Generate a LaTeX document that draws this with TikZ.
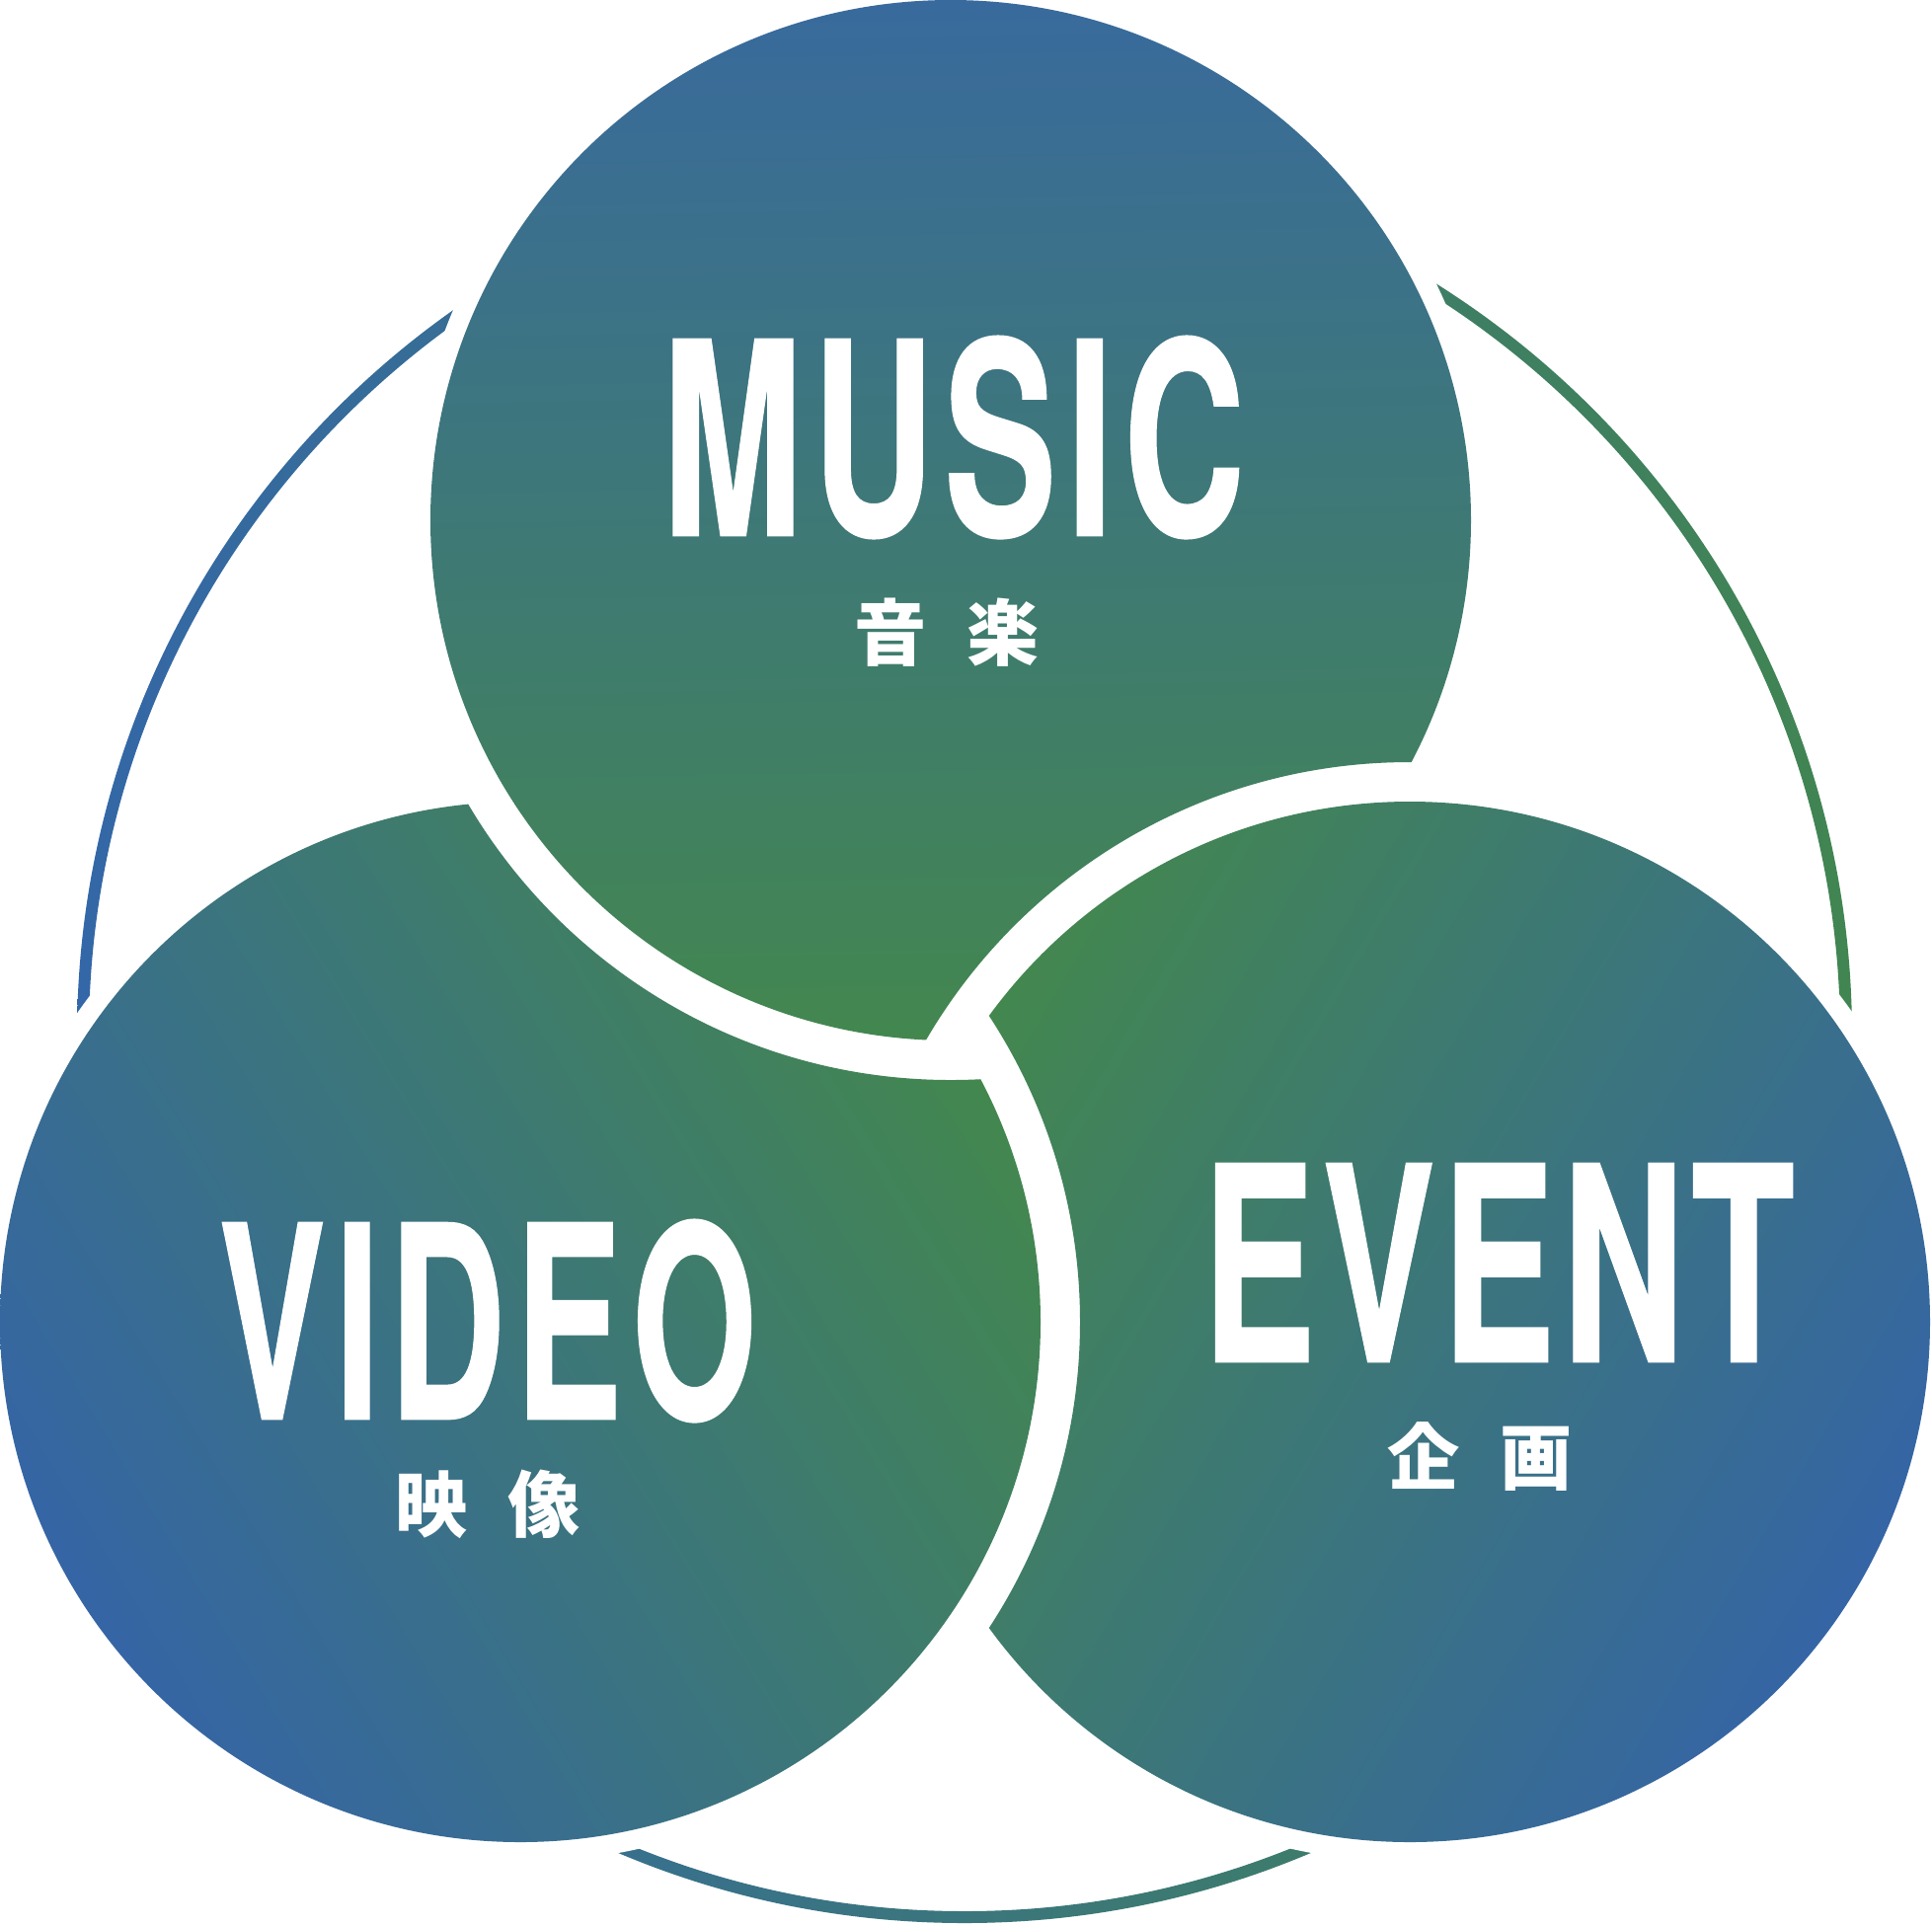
\documentclass[tikz,border=0pt]{standalone}
\usepackage{fontspec}
\usepackage{graphicx}
\setmainfont{TeX Gyre Heros}
\newfontfamily\jpfont{Noto Sans CJK JP}
\definecolor{cblue}{HTML}{3565A5}
\definecolor{mblue}{HTML}{396A9D}
\definecolor{cgreen}{HTML}{43874F}
\definecolor{rblue}{HTML}{3467A7}
\definecolor{rgreen}{HTML}{418552}
\tikzset{title/.style={inner sep=0pt, text=white, font=\bfseries\addfontfeature{FakeBold=0.6}}}
\tikzset{kanji/.style={inner sep=0pt, text=white, font=\jpfont\bfseries\fontsize{20.8pt}{24pt}\selectfont}}
\tikzset{musicfill/.style={top color=mblue, bottom color=cgreen, shading angle=1}}
\tikzset{videofill/.style={bottom color=cblue, top color=cgreen, shading angle=-58.7}}
\tikzset{eventfill/.style={bottom color=cblue, top color=cgreen, shading angle=59.3}}
\newcommand\spc{\kern.06em}

\begin{document}
\begin{tikzpicture}[x=0.01cm, y=0.01cm]
\useasboundingbox (0,0) rectangle (1957,-1950);
\coordinate (music) at (963,-527);
\coordinate (video) at (527,-1339);
\coordinate (event) at (1428,-1339);
\coordinate (ring) at (977,-1049);

% outer ring, cut round the circles
\shade[left color=rblue, right color=rgreen, even odd rule] (ring) circle (899) (ring) circle (887);
\foreach \c in {music,video,event}
  \fill[white] (\c) circle (547);

% each circle stops short of the one lying over it
% (music over video, video over event, event over music)
\foreach \c/\top/\sty in {music/event/musicfill, video/music/videofill, event/video/eventfill}{
  \begin{scope}[even odd rule]
    \clip (-50,50) rectangle (2010,-2000) (\top) circle (567);
    \shade[\sty] (\c) circle (527);
  \end{scope}
}

% labels
\node[title] (musict) at (966,-443) {\resizebox{5.9cm}{2.02cm}{M\spc U\spc S\spc I\spc C}};
\node[kanji] (musicj) at (959,-641) {音\kern.55em 楽};
\node[title] (videot) at (494,-1338) {\resizebox{5.45cm}{2.02cm}{V\spc I\spc D\spc E\spc O}};
\node[kanji] (videoj) at (494,-1524) {映\kern.55em 像};
\node[title] (eventt) at (1518,-1279) {\resizebox{6cm}{2.01cm}{E\kern.04em V\kern.04em E\kern.04em N\kern.04em T}};
\node[kanji] (eventj) at (1499,-1475) {企\kern.55em 画};
\end{tikzpicture}
\end{document}
